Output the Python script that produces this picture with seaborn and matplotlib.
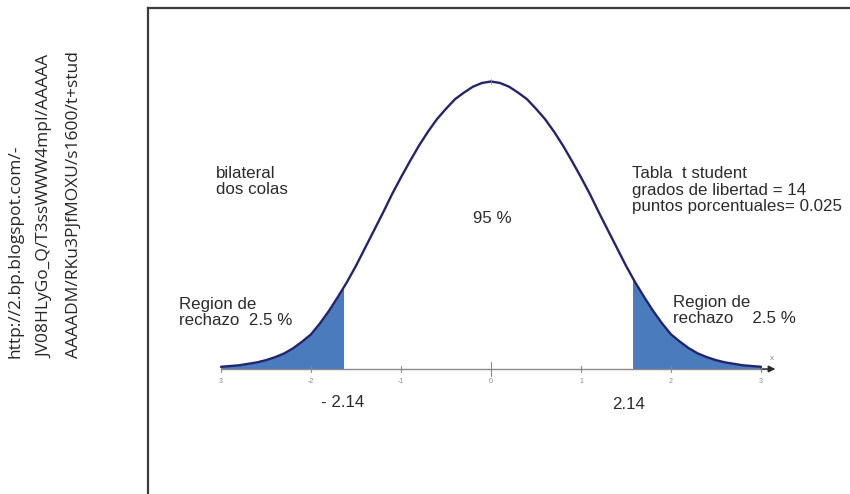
import matplotlib
matplotlib.use("Agg")
import matplotlib.pyplot as plt
import matplotlib.patches as mpatches
import seaborn as sns
import pandas as pd

# curve heights (density units), x from -3 to 3 by 0.1
x_vals = [round(-3.0 + 0.1 * i, 1) for i in range(61)]
half = [0.003, 0.004, 0.005, 0.007, 0.009, 0.012, 0.016, 0.021, 0.028, 0.037,
        0.047, 0.062, 0.079, 0.098, 0.118, 0.140, 0.164, 0.188, 0.212, 0.237,
        0.260, 0.282, 0.303, 0.322, 0.339, 0.353, 0.366, 0.375, 0.383, 0.388]
peak = 0.390
density = half + [peak] + half[::-1]
# where the shading stops in the drawing, and the labels written under it
cut_left, cut_right = -1.65, 1.58
crit_labels = ["- 2.14", "2.14"]
tick_vals = [-3, -2, -1, 0, 1, 2, 3]
tick_labels = ["3", "-2", "-1", "0", "1", "2", "3"]

url_lines = ["http://2.bp.blogspot.com/-",
             "JV08HLyGo_Q/T3ssWWW4mpI/AAAAA",
             "AAAADM/RKu3PJfMOXU/s1600/t+stud"]

df = pd.DataFrame({"x": x_vals, "y": density})

sns.set_theme(style="white")
plt.rcParams["font.family"] = ["Liberation Sans", "DejaVu Sans"]

W, H = 850, 494
fig = plt.figure(figsize=(W / 100, H / 100), dpi=100)

# outer frame, running off the right and bottom edges
frame = fig.add_axes([148 / W, -0.2, 1.0, 1.2 - 8 / H])
frame.set_xticks([])
frame.set_yticks([])
for s in frame.spines.values():
    s.set_color("#3c3c3c")
    s.set_linewidth(1.6)

# plot axes: 0 at px 491, 90 px per unit; baseline at px 369
px_left, px_right, px_top, px_bot = 200, 800, 60, 420
unit_x = 90.0
x0_px = 491
base_px = 369
unit_y = (base_px - 81.5) / peak
ax = fig.add_axes([px_left / W, 1 - px_bot / H, (px_right - px_left) / W,
                   (px_bot - px_top) / H])
ax.set_xlim((px_left - x0_px) / unit_x, (px_right - x0_px) / unit_x)
ax.set_ylim(-(px_bot - base_px) / unit_y, (base_px - px_top) / unit_y)
ax.axis("off")

fill_col = "#4a7bbd"
for lo, hi in [(x_vals[0], cut_left), (cut_right, x_vals[-1])]:
    poly = ax.fill_between(df["x"], 0, df["y"], color=fill_col, lw=0, zorder=2)
    clip = mpatches.Rectangle((lo, -0.01), hi - lo, 1, transform=ax.transData)
    poly.set_clip_path(clip)

sns.lineplot(data=df, x="x", y="y", ax=ax, color="#23246e", lw=1.7,
             zorder=4, legend=False)

# horizontal axis with arrow
ax.plot([-3.0, 3.1], [0, 0], color="#8a8a8a", lw=1.0, zorder=3)
ax.annotate("", xy=(3.16, 0), xytext=(3.0, 0),
            arrowprops=dict(arrowstyle="-|>", color="#2a2a2a", lw=1.0,
                            mutation_scale=10, shrinkA=0, shrinkB=0),
            zorder=3)
ax.text(3.12, 0.012, "x", fontsize=6, color="#8a8a8a", ha="center")
for t, lab in zip(tick_vals, tick_labels):
    h = 0.009 if t == 0 else 0.004
    ax.plot([t, t], [-h, h], color="#8a8a8a", lw=0.8, zorder=3)
    ax.text(t, -0.012, lab, fontsize=5, color="#8a8a8a", ha="center", va="top")
ax.plot([0, 0], [peak - 0.003, peak + 0.003], color="#8a8a8a", lw=0.6, zorder=5)


def px(xp, yp):
    return ((xp - x0_px) / unit_x, (base_px - yp) / unit_y)


txt = dict(fontsize=12.2, color="#2b2b2b", ha="left", va="baseline",
           linespacing=1.12)
ax.text(*px(216, 194), "bilateral\ndos colas", **txt)
ax.text(*px(473, 223), "95 %", **txt)
ax.text(*px(179, 325), "Region de\nrechazo  2.5 %", **txt)
ax.text(*px(632, 211), "Tabla  t student\ngrados de libertad = 14\n"
        "puntos porcentuales= 0.025", **txt)
ax.text(*px(673, 323), "Region de\nrechazo    2.5 %", **txt)
ax.text(*px(321, 407), crit_labels[0], **txt)
ax.text(*px(612, 409), crit_labels[1], **txt)

# rotated source url at the left
for xp, line in zip([16, 45, 74], url_lines):
    fig.text(xp / W, 1 - 358 / H, line, rotation=90, fontsize=12.5,
             color="#262626", ha="center", va="bottom",
             family=["Open Sans", "DejaVu Sans"])

fig.savefig("out.png", dpi=100)
